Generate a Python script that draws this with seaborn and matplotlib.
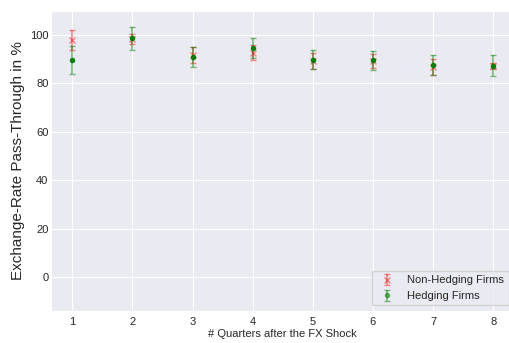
import numpy as np
import pandas as pd
import matplotlib
matplotlib.use("Agg")
import matplotlib.pyplot as plt
import seaborn as sns

# quarters after the shock
quarters = [1, 2, 3, 4, 5, 6, 7, 8]

# pass-through estimates in % and half-width of the error bars
non_hedging = [98.0, 98.4, 91.8, 92.6, 89.3, 89.2, 86.9, 87.1]
non_hedging_err = [4.1, 1.9, 3.4, 3.1, 3.3, 3.0, 3.3, 1.3]
hedging = [89.8, 98.6, 91.0, 94.7, 89.9, 89.5, 87.5, 87.3]
hedging_err = [5.8, 4.9, 4.1, 4.1, 4.0, 4.1, 4.2, 4.4]


def main():
    sns.set_style("darkgrid")
    plt.rcParams["font.family"] = ["Liberation Sans", "DejaVu Sans"]

    data = pd.DataFrame({"quarter": quarters,
                         "non_hedging": non_hedging,
                         "non_hedging_err": non_hedging_err,
                         "hedging": hedging,
                         "hedging_err": hedging_err})

    fig = plt.figure(figsize=(5.10, 3.43), dpi=100)
    # axes run a bit past the right edge, as in the original crop
    ax = fig.add_axes([0.1004, 0.0933, 0.908, 0.875])

    ax.errorbar(data["quarter"], data["non_hedging"], yerr=data["non_hedging_err"],
                fmt="x", color="red", ecolor="red", alpha=0.45,
                markersize=4, capsize=2.5, elinewidth=1.2,
                label="Non-Hedging Firms")
    ax.errorbar(data["quarter"], data["hedging"], yerr=data["hedging_err"],
                fmt="o", color="green", ecolor="green", alpha=0.5,
                markersize=3, capsize=2.5, elinewidth=1.2,
                label="Hedging Firms")
    # solid markers on top of the pale bars
    sns.scatterplot(data=data, x="quarter", y="hedging", color="green",
                    s=12, edgecolor="green", ax=ax, zorder=5)

    ax.set_xlim(0.65, 8.35)
    ax.set_ylim(-14, 110)
    ax.set_xticks(quarters)
    ax.set_yticks([0, 20, 40, 60, 80, 100])
    ax.tick_params(labelsize=8, length=0, pad=2)
    ax.tick_params(axis="x", pad=4)
    ax.set_xlabel("# Quarters after the FX Shock", fontsize=8, labelpad=2)
    ax.set_ylabel("Exchange-Rate Pass-Through in %", fontsize=11)
    ax.yaxis.set_label_coords(-0.056, 0.5)
    ax.legend(loc="lower right", fontsize=8)

    fig.savefig("out.png", dpi=100)


if __name__ == '__main__':
    main()
